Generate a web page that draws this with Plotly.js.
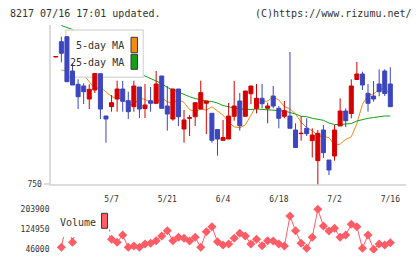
<!DOCTYPE html>
<html>
<head>
<meta charset="utf-8">
<script src="https://cdn.plot.ly/plotly-3.0.1.min.js"></script>
<style>
  html, body { margin: 0; padding: 0; background: #fff; }
  #chart { width: 420px; height: 259px; }
</style>
</head>
<body>
<div id="chart"></div>
<script>
// Trading days shown on the chart (2025)
const dates = [
  '04/18','04/21','04/22','04/23','04/24','04/25','04/28','04/30','05/01','05/02',
  '05/07','05/08','05/09','05/12','05/13','05/14','05/15','05/16','05/19','05/20',
  '05/21','05/22','05/23','05/26','05/27','05/28','05/29','05/30','06/02','06/03',
  '06/04','06/05','06/06','06/09','06/10','06/11','06/12','06/13','06/16','06/17',
  '06/18','06/19','06/20','06/23','06/24','06/25','06/26','06/27','06/30','07/01',
  '07/02','07/03','07/04','07/07','07/08','07/09','07/10','07/11','07/14','07/15',
  '07/16'
];

// Daily prices (yen)
const openP = [
  877.3, 892.6, 897.6, 863.3, 850.0, 848.3, 835.3, 844.3, 860.6, 818.3,
  827.6, 835.3, 845.3, 833.6, 827.6, 847.3, 825.8, 833.6, 831.0, 858.3,
  828.3, 815.3, 845.3, 805.3, 816.0, 817.6, 825.3, 831.0, 821.0, 804.8,
  794.0, 795.3, 818.0, 833.3, 818.0, 840.6, 826.0, 836.0, 826.0, 838.3,
  826.0, 818.0, 818.3, 804.3, 800.7, 806.0, 793.6, 773.6, 804.3, 774.3,
  778.3, 808.3, 823.3, 820.8, 854.8, 860.3, 841.0, 838.3, 850.3, 863.3,
  850.3
];
const highP = [
  878.0, 897.6, 897.6, 871.0, 855.0, 851.0, 850.0, 860.8, 860.6, 818.3,
  839.3, 853.6, 853.3, 842.6, 853.6, 847.3, 850.3, 847.3, 863.3, 858.3,
  848.3, 845.3, 845.3, 824.3, 819.3, 831.6, 853.6, 833.3, 821.0, 804.8,
  814.3, 831.3, 853.3, 841.3, 843.3, 848.3, 850.3, 850.3, 831.6, 848.3,
  828.3, 833.3, 882.3, 811.0, 818.0, 816.0, 806.0, 804.3, 809.3, 774.3,
  809.3, 836.0, 826.0, 855.0, 872.3, 862.6, 850.3, 853.3, 865.0, 865.0,
  867.0
];
const lowP = [
  877.0, 872.0, 852.6, 849.3, 825.3, 830.3, 825.3, 841.3, 815.3, 791.6,
  822.6, 822.6, 822.6, 815.3, 822.6, 816.3, 816.3, 822.6, 831.0, 826.0,
  803.6, 813.6, 808.3, 791.6, 798.3, 808.3, 825.3, 800.3, 791.6, 778.6,
  794.0, 795.3, 813.6, 803.6, 818.0, 830.3, 821.0, 826.0, 811.0, 826.0,
  806.0, 816.0, 806.0, 786.8, 793.6, 798.3, 776.8, 749.5, 776.3, 759.3,
  773.6, 808.3, 807.3, 816.0, 854.8, 844.3, 822.6, 832.6, 838.0, 838.3,
  827.6
];
const closeP = [
  877.8, 881.0, 852.6, 849.3, 837.6, 842.6, 845.0, 860.8, 825.3, 815.3,
  831.6, 845.3, 833.0, 822.6, 848.3, 825.3, 829.3, 831.0, 850.3, 826.0,
  820.3, 845.3, 817.6, 814.3, 816.6, 831.6, 841.6, 833.3, 794.0, 795.3,
  796.8, 818.3, 828.3, 808.5, 843.3, 848.3, 836.0, 830.6, 828.3, 828.3,
  816.0, 823.6, 806.0, 786.8, 801.0, 800.6, 799.3, 801.0, 781.6, 764.3,
  804.3, 823.3, 813.6, 848.3, 860.3, 849.3, 831.0, 835.3, 842.6, 840.8,
  827.6
];

// Moving averages (yen)
const ma5 = [
  null,  864.3, 863.3, 862.3, 861.3, 859.6, 852.6, 845.4, 847.1, 842.3,
  837.8, 835.6, 835.7, 830.1, 829.6, 836.2, 834.9, 831.7, 831.3, 836.8,
  832.4, 831.4, 834.6, 831.9, 824.7, 822.8, 825.1, 824.3, 827.5, 823.4,
  819.2, 812.2, 807.5, 806.5, 809.4, 819.0, 829.3, 832.9, 833.3, 837.3,
  834.3, 827.8, 825.4, 820.4, 812.1, 806.7, 803.6, 798.7, 797.7, 796.7,
  789.4, 790.1, 794.9, 797.4, 810.8, 830.0, 839.0, 840.5, 844.8, 846.3,
  839.7
];
const ma25 = [
  null,  908.8, 906.8, 904.8, 901.3, 897.3, 893.3, 889.3, 885.3, 881.3,
  878.3, 874.3, 871.3, 868.3, 865.3, 860.8, 858.3, 855.8, 853.3, 850.8,
  846.8, 844.3, 842.3, 839.8, 837.6, 835.8, 834.3, 833.3, 832.8, 831.3,
  828.8, 827.3, 826.3, 825.3, 824.8, 824.8, 825.3, 824.8, 824.3, 823.8,
  823.6, 823.3, 821.8, 820.3, 818.0, 817.6, 816.0, 814.8, 814.0, 811.3,
  809.8, 809.8, 810.3, 810.8, 813.3, 815.0, 816.0, 816.8, 817.8, 818.3,
  818.3
];

// Daily volume (shares)
const volume = [
  null,   53900, 160000,  73600, 150000, 135000, 115000, 125000, 140000, 120000,
  85500,  73600, 102400,  53900,  59000,  53900,  66900,  69700,  80000,  98500,
  119400, 80000,  93400,  89400,  78800,  93400,  53900, 115500, 135200,  76000,
  63000,  66900,  89400, 109200,  98500,  66900,  85500,  60200,  80000,  78800,
  66900,  59000, 177400, 119400,  69700,  49900,  93400, 203900, 138000, 118200,
  128900, 93400, 102400, 144700, 135200,  49900, 102400,  46000,  66900,  63000,
  72100
];

// Axis labels
const tickDates  = ['05/07', '05/21', '06/04', '06/18', '07/02', '07/16'];
const tickLabels = ['5/7', '5/21', '6/4', '6/18', '7/2', '7/16'];
const priceTicks = [750];
const volumeTicks = [46000, 124950, 203900];

// ---- geometry (pixels in a 420 x 259 canvas) ----
const W = 420, H = 259;
const px = x => x / W;
const py = y => 1 - y / H;

const FONT = 'DejaVu Sans Mono, Liberation Mono, monospace';
const TXT = '#333333';
const AXIS = '#dcdcdc';
const UP = '#d40000', DOWN = '#3c46be';
const ORANGE = '#f28c0f', GREEN = '#14a014', VOL = '#ff5c66';

const xDomain = [px(50.5), px(405.7)];
const priceDomain = [py(184.3), py(25)];
const volDomain = [py(253), py(205)];
const xRange = [-0.95, 62.76];
const priceRange = [750, 909.3];
const volRange = [31390, 220890];

const catAxis = {
  type: 'category', categoryorder: 'array', categoryarray: dates,
  domain: xDomain, range: xRange, showgrid: false, zeroline: false, fixedrange: true
};

const traces = [
  // moving averages sit in the lower subplot so candles and the legend panel cover them
  { type: 'scatter', mode: 'lines', x: dates, y: ma5, xaxis: 'x', yaxis: 'y',
    line: { color: ORANGE, width: 1 }, hoverinfo: 'skip', connectgaps: false },
  { type: 'scatter', mode: 'lines', x: dates, y: ma25, xaxis: 'x', yaxis: 'y',
    line: { color: GREEN, width: 1 }, hoverinfo: 'skip', connectgaps: false },
  // candles
  { type: 'candlestick', x: dates, open: openP, high: highP, low: lowP, close: closeP,
    xaxis: 'x2', yaxis: 'y2', whiskerwidth: 0,
    increasing: { line: { color: UP, width: 1 }, fillcolor: UP },
    decreasing: { line: { color: DOWN, width: 1 }, fillcolor: DOWN },
    hoverinfo: 'skip' },
  // volume
  { type: 'scatter', mode: 'lines+markers', x: dates, y: volume, xaxis: 'x5', yaxis: 'y3',
    line: { color: VOL, width: 1 },
    marker: { symbol: 'diamond', size: 7, color: VOL },
    connectgaps: false, hoverinfo: 'skip' }
];

const layout = {
  width: W, height: H,
  margin: { l: 0, r: 0, t: 0, b: 0 },
  paper_bgcolor: '#ffffff',
  plot_bgcolor: 'rgba(0,0,0,0)',
  showlegend: false,
  font: { family: FONT, size: 8, color: TXT },
  boxgap: 0.28, boxgroupgap: 0,

  xaxis: Object.assign({}, catAxis, {
    anchor: 'y', showline: true, linecolor: AXIS, linewidth: 2,
    ticks: '', tickmode: 'array', tickvals: tickDates, ticktext: tickLabels,
    tickfont: { family: FONT, size: 8, color: TXT }, ticklabelstandoff: 6
  }),
  yaxis: {
    domain: priceDomain, range: priceRange, anchor: 'x',
    showline: true, linecolor: AXIS, linewidth: 2,
    ticks: 'outside', ticklen: 5, tickwidth: 2, tickcolor: AXIS,
    tickmode: 'array', tickvals: priceTicks,
    tickfont: { family: FONT, size: 8, color: TXT },
    showgrid: false, zeroline: false, fixedrange: true
  },
  xaxis2: Object.assign({}, catAxis, { anchor: 'y2', visible: false, rangeslider: { visible: false } }),
  yaxis2: { domain: priceDomain, range: priceRange, anchor: 'x2', visible: false, fixedrange: true },

  // evenly spaced tick marks crossing the time axis
  xaxis3: {
    overlaying: 'x', anchor: 'y', range: [0, 11], tickmode: 'linear', tick0: 0, dtick: 1,
    ticks: 'outside', ticklen: 5, tickwidth: 2, tickcolor: AXIS,
    showticklabels: false, showgrid: false, zeroline: false, showline: false, fixedrange: true
  },
  xaxis4: {
    overlaying: 'x', anchor: 'y', range: [0, 11], tickmode: 'linear', tick0: 0, dtick: 1,
    ticks: 'inside', ticklen: 3, tickwidth: 2, tickcolor: AXIS,
    showticklabels: false, showgrid: false, zeroline: false, showline: false, fixedrange: true
  },

  xaxis5: Object.assign({}, catAxis, { anchor: 'y3', visible: false }),
  yaxis3: {
    domain: volDomain, range: volRange, anchor: 'x5',
    showline: false, ticks: '', tickmode: 'array', tickvals: volumeTicks,
    ticktext: volumeTicks.map(String),
    tickfont: { family: FONT, size: 8, color: TXT },
    showgrid: false, zeroline: false, fixedrange: true
  },

  shapes: [
    // legend panel: lives in the candle subplot, above the averages, below the candles
    { type: 'rect', layer: 'below', xref: 'x2', yref: 'y2',
      x0: 1.776, x1: 15.70, y0: 857.0, y1: 904.3,
      fillcolor: '#ffffff', line: { color: AXIS, width: 1.5 } },
    { type: 'rect', layer: 'above', xref: 'paper', yref: 'paper',
      x0: px(131), x1: px(137.5), y0: py(52.7), y1: py(37.3),
      fillcolor: ORANGE, line: { color: '#3a3a3a', width: 1 } },
    { type: 'rect', layer: 'above', xref: 'paper', yref: 'paper',
      x0: px(131), x1: px(137.5), y0: py(69.3), y1: py(54.3),
      fillcolor: GREEN, line: { color: '#3a3a3a', width: 1 } },
    // volume legend panel
    { type: 'rect', layer: 'above', xref: 'paper', yref: 'paper',
      x0: px(54), x1: px(109), y0: py(237), y1: py(205),
      fillcolor: '#ffffff', line: { width: 0 } },
    { type: 'rect', layer: 'above', xref: 'paper', yref: 'paper',
      x0: px(101.5), x1: px(107.5), y0: py(228.3), y1: py(213.3),
      fillcolor: VOL, line: { color: '#3a3a3a', width: 1 } }
  ],

  annotations: [
    { text: '8217 07/16 17:01 updated.', xref: 'paper', yref: 'paper',
      x: px(7.5), y: py(13.3), xanchor: 'left', yanchor: 'middle', showarrow: false,
      font: { family: FONT, size: 10, color: TXT } },
    { text: '(C)https://www.rizumu.net/', xref: 'paper', yref: 'paper',
      x: px(414), y: py(13.3), xanchor: 'right', yanchor: 'middle', showarrow: false,
      font: { family: FONT, size: 10, color: TXT } },
    { text: '5-day MA', xref: 'paper', yref: 'paper',
      x: px(125.5), y: py(46), xanchor: 'right', yanchor: 'middle', showarrow: false,
      font: { family: FONT, size: 10, color: TXT } },
    { text: '25-day MA', xref: 'paper', yref: 'paper',
      x: px(125.5), y: py(62.7), xanchor: 'right', yanchor: 'middle', showarrow: false,
      font: { family: FONT, size: 10, color: TXT } },
    { text: 'Volume', xref: 'paper', yref: 'paper',
      x: px(58), y: py(222.5), xanchor: 'left', yanchor: 'middle', showarrow: false,
      font: { family: FONT, size: 10, color: TXT } }
  ]
};

Plotly.newPlot('chart', traces, layout, { staticPlot: true, displayModeBar: false });
</script>
</body>
</html>
